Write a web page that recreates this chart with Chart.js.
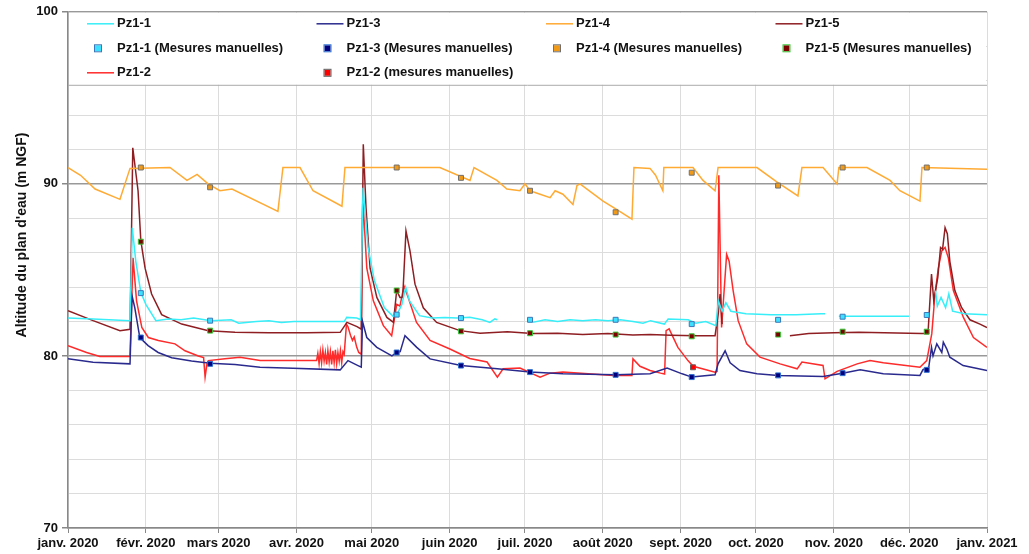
<!DOCTYPE html>
<html>
<head>
<meta charset="utf-8">
<script src="https://cdn.jsdelivr.net/npm/chart.js@4.4.1/dist/chart.umd.min.js"></script>
<style>
  body { margin: 0; background: #fff; }
  #plot { display: block; }
</style>
</head>
<body>
<canvas id="plot" width="1029" height="554"></canvas>
<script>
// x = day of year 2020 (0 = 1 janv. 2020)
const monthDays = [0, 31, 60, 91, 121, 152, 182, 213, 244, 274, 305, 335, 366];
const monthLabels = ['janv. 2020', 'févr. 2020', 'mars 2020', 'avr. 2020', 'mai 2020', 'juin 2020',
  'juil. 2020', 'août 2020', 'sept. 2020', 'oct. 2020', 'nov. 2020', 'déc. 2020', 'janv. 2021'];

const pz11Days = [0,10,24.7,25.6,27,29,31,35,40,45,50,57,65,68,75,80,85,90,100,110,111,115,116.5,117.5,119.5,122,126,129.5,131,133,134.5,136,140,145,150,155,160,165,168,170,171,171.5,185,190,195,200,205,210,215,220,225,229,232,237.5,239,247,250,254,258,259,260.5,262,264,270,280,290,300,301.5,304,307,315,325,335,340,345.5,346.2,347.7,349.5,350.8,352.3,357,366];
const pz11Vals = [82.2,82.15,82.05,87.45,85.5,83.7,83.0,82.05,82.15,82.1,82.2,82.05,82.1,81.9,82.0,82.05,81.95,82.0,82.0,82.0,82.24,82.2,82.1,89.77,86.3,84.4,82.8,82.3,82.4,83.0,84.0,83.2,82.34,82.2,82.24,82.2,82.25,82.1,81.95,82.15,82.1,null,81.95,82.1,82.0,82.1,82.05,82.1,82.05,82.1,82.0,81.9,82.05,81.85,82.15,82.1,81.9,82.0,81.76,83.2,82.6,83.1,82.6,82.45,82.4,82.4,82.45,82.45,null,82.3,82.3,82.3,82.3,null,83.8,82.9,83.4,82.8,83.6,82.6,82.45,82.4];

const pz13Days = [0,10,24.7,25.5,26.6,28.6,31.9,35.9,41.3,49.2,56.6,66.5,76.5,89.6,108.4,111.5,115.5,116.8,117.3,119,123,129,130.9,132.3,134.2,138.9,144.2,156.5,171,184,197.1,218.1,231.8,238.6,244.6,248.4,257.7,258.9,261.7,263.7,267.6,274.4,282.8,300.7,308.5,315.5,324.7,339.3,340.5,342.8,343.9,344.5,346,348,348.6,350,351.2,356.5,366];
const pz13Vals = [79.83,79.64,79.54,83.5,82.8,81.07,80.6,80.2,79.9,79.7,79.58,79.5,79.34,79.29,79.19,79.73,79.44,79.35,82.0,81.07,80.5,80.0,80.2,80.25,81.18,80.5,79.83,79.44,79.25,79.06,78.96,78.9,78.96,79.3,78.96,78.77,78.9,79.54,80.3,79.6,79.15,78.96,78.87,78.8,79.0,79.19,78.96,78.87,79.2,79.34,80.5,80.0,80.7,80.2,80.8,80.4,79.93,79.44,79.15];

const pz14Days = [0,5,10.8,20.7,24.7,40.6,47.4,51.4,55.8,60.5,65.3,83.6,85.6,92.4,97.6,109.1,110.3,148.1,160.1,161.7,170.8,174.8,180,182,184,192,194,197.1,201.1,202.7,203.9,213.1,218.6,224.6,225.4,231.8,234,236.9,237.3,248.9,252.9,257.7,258.9,274.4,282.4,290.7,292.3,300.7,306.3,307,318.2,327.4,331.3,339.3,340.1,366];
const pz14Vals = [90.95,90.5,89.7,89.1,90.9,90.95,90.2,90.55,90.0,89.6,89.7,88.4,90.95,90.95,89.6,88.7,90.95,90.95,90.2,90.95,90.2,89.7,89.6,90.0,89.6,89.2,89.6,89.4,88.8,89.9,90.0,89.0,88.5,87.95,90.95,90.9,90.5,89.6,90.95,90.95,90.2,89.6,90.95,90.95,90.1,89.3,90.95,90.95,90.0,90.95,90.95,90.2,89.6,89.0,90.95,90.85];

const pz15Days = [0,10,20.7,24.7,25.8,27.9,29,30.7,33.3,37.3,45.3,55.9,66.5,80,95,108.4,111.1,115.1,116.8,117.6,118.7,120.3,123,127,129.6,130.9,132.2,133.3,134.6,136.2,138.2,141.5,146.8,156.1,164.1,175,185,195,205,215,225,231.8,240,250,257.7,259,259.7,260.5,261,287.5,295,305,315,325,340,342.5,343.9,344.8,346.4,347.5,348.3,349.3,350.2,351.2,353.2,355.9,359.2,363.2,366];
const pz15Vals = [82.63,82.05,81.47,81.55,92.1,89.6,86.7,85.1,83.6,82.4,81.85,81.47,81.37,81.35,81.35,81.37,81.95,81.7,81.55,92.3,88.6,85.1,83.4,82.24,81.95,83.8,83.4,83.4,87.27,86.1,84.17,82.8,81.95,81.47,81.32,81.4,81.3,81.32,81.25,81.3,81.22,81.24,81.2,81.18,81.18,82.5,83.6,81.85,null,81.18,81.3,81.35,81.38,81.35,81.3,81.3,84.76,83.2,84.56,86.3,86.2,87.45,87.1,85.5,83.8,82.8,82.1,81.85,81.65];

const pz12Days = [0,7.4,12.7,24.7,25.9,27.3,29.4,32,36,42.6,46.6,51.9,54,54.6,55.3,55.9,62.5,68.5,76.5,89.6,99,99.5,100,100.5,101,101.5,102,102.5,103,103.5,104,104.5,105,105.5,106,106.5,107,107.5,108,108.5,109,109.5,110,110.9,111.5,112.5,113.3,114,115,115.8,116.8,117.4,119,121.6,125.6,128.9,130.9,132.2,133.8,135.5,138.8,144.2,152.1,160,166.9,171,173.3,180,188,192,197.1,217.3,224.6,225,227.8,231.8,236,237.6,238.2,239.4,242.9,246.9,249,257.7,258.5,259.2,260.3,262.3,263.3,264.9,266.9,270.3,275.6,283.6,290.4,292.3,300.7,301.5,306.3,314.3,319.4,324.7,339.3,342,344,345.3,346.6,348,349.3,350.6,352.6,356.6,360.6,366];
const pz12Vals = [80.6,80.2,79.97,79.97,85.7,83.2,81.66,81.07,80.9,80.7,80.3,80.0,79.9,78.77,79.5,79.73,79.83,79.93,79.73,79.73,79.73,80.15,79.55,80.25,79.6,80.35,79.7,80.2,79.5,80.3,79.65,80.25,79.5,80.3,79.6,80.35,79.55,80.2,79.7,80.3,79.6,80.25,80.1,81.85,81.7,81.2,80.9,81.1,80.5,80.2,80.1,89.2,85.1,83.2,81.76,81.18,83.0,82.9,84.07,83.4,81.95,80.9,80.4,79.85,79.65,78.77,79.25,79.3,78.77,79.0,79.06,78.87,78.87,79.83,79.4,79.15,79.0,78.95,81.47,81.57,80.5,79.73,79.4,79.06,79.1,90.5,81.66,85.9,85.5,83.8,82.05,80.7,79.93,79.54,79.25,79.64,79.45,78.67,79.1,79.54,79.73,79.6,79.34,79.73,81.28,83.6,85.1,86.1,86.3,85.7,83.8,82.24,81.07,80.5];

// mesures manuelles
const mmDays = [29, 56.6, 130.9, 156.5, 184, 218.1, 248.4, 282.8, 308.5, 342];
const pz11MM = [83.65, 82.05, 82.4, 82.2, 82.1, 82.1, 81.85, 82.1, 82.28, 82.38];
const pz13MM = [81.07, 79.54, 80.2, 79.44, 79.06, 78.9, 78.77, 78.87, 79.0, 79.19];
const pz14MM = [90.95, 89.8, 90.95, 90.35, 89.6, 88.35, 90.65, 89.9, 90.95, 90.95];
const pz15MM = [86.64, 81.47, 83.8, 81.43, 81.32, 81.24, 81.14, 81.24, 81.41, 81.41];
const pz12MMDays = [248.9];
const pz12MM = [79.34];

const pts = (days, vals) => days.map((d, i) => ({ x: d, y: vals[i] }));

const line = (label, days, vals, color) => ({
  type: 'line', label, data: pts(days, vals), borderColor: color, backgroundColor: color,
  borderWidth: 1.5, pointRadius: 0, tension: 0, spanGaps: false, order: 2
});
const marks = (label, days, vals, fill, border) => ({
  type: 'scatter', label, data: pts(days, vals), backgroundColor: fill, borderColor: border,
  borderWidth: 1, pointStyle: 'rect', pointRadius: 3.5, order: 1
});

// legend order = Excel order (4 columns, row by row)
const datasets = [
  line('Pz1-1', pz11Days, pz11Vals, '#38eef8'),
  line('Pz1-3', pz13Days, pz13Vals, '#2a2a8e'),
  line('Pz1-4', pz14Days, pz14Vals, '#ffaa33'),
  line('Pz1-5', pz15Days, pz15Vals, '#8e1e22'),
  marks('Pz1-1 (Mesures manuelles)', mmDays, pz11MM, '#3ee0ff', '#3a78b8'),
  marks('Pz1-3 (Mesures manuelles)', mmDays, pz13MM, '#00007c', '#3070d0'),
  marks('Pz1-4 (Mesures manuelles)', mmDays, pz14MM, '#f09a18', '#707070'),
  marks('Pz1-5 (Mesures manuelles)', mmDays, pz15MM, '#7c0000', '#38c838'),
  line('Pz1-2', pz12Days, pz12Vals, '#ff2a2a'),
  marks('Pz1-2 (mesures manuelles)', pz12MMDays, pz12MM, '#ff0000', '#606060')
];

const FONT = '"Liberation Sans", Arial, sans-serif';

const legendBox = {
  id: 'legendBox',
  afterDraw(chart) {
    const c = chart.ctx, a = chart.chartArea;
    c.save();
    c.fillStyle = '#fff';
    c.fillRect(a.left + 1, a.top + 1, a.right - a.left - 2, 72);
    c.strokeStyle = '#aaa';
    c.lineWidth = 1;
    c.beginPath();
    c.moveTo(a.left, a.top + 73.5);
    c.lineTo(a.right, a.top + 73.5);
    c.stroke();
    c.font = 'bold 13px ' + FONT;
    c.textBaseline = 'middle';
    c.fillStyle = '#111';
    chart.data.datasets.forEach((ds, i) => {
      const x = a.left + 19 + (i % 4) * 229.5;
      const y = a.top + 12 + Math.floor(i / 4) * 24.5;
      if (ds.type === 'line') {
        c.strokeStyle = ds.borderColor;
        c.lineWidth = 1.5;
        c.beginPath();
        c.moveTo(x, y);
        c.lineTo(x + 27, y);
        c.stroke();
      } else {
        c.fillStyle = ds.backgroundColor;
        c.fillRect(x + 8, y - 3, 6, 6);
        c.strokeStyle = ds.borderColor;
        c.lineWidth = 1;
        c.strokeRect(x + 7.5, y - 3.5, 7, 7);
      }
      c.fillStyle = '#111';
      c.fillText(ds.label, x + 30, y);
    });
    // y axis title
    c.translate(22, 235);
    c.rotate(-Math.PI / 2);
    c.textAlign = 'center';
    c.font = 'bold 14px ' + FONT;
    c.fillText("Altitude du plan d'eau (m NGF)", 0, 0);
    c.restore();
  }
};

new Chart(document.getElementById('plot'), {
  data: { datasets },
  options: {
    responsive: false,
    animation: false,
    layout: { padding: { top: 10, right: 42, left: 0, bottom: 0 } },
    plugins: { legend: { display: false }, tooltip: { enabled: false } },
    scales: {
      x: {
        type: 'linear', min: 0, max: 366,
        afterBuildTicks: s => { s.ticks = monthDays.map(v => ({ value: v })); },
        afterFit: s => { s.height = 26; },
        ticks: {
          autoSkip: false, maxRotation: 0, padding: 3, color: '#111',
          font: { family: FONT, size: 13, weight: 'bold' },
          callback: v => monthLabels[monthDays.indexOf(v)]
        },
        grid: { color: '#dcdcdc', lineWidth: 1, tickColor: '#888', tickLength: 5 },
        border: { color: '#888', width: 1.5 }
      },
      y: {
        min: 70, max: 100,
        afterFit: s => { s.width = 68; },
        ticks: {
          stepSize: 2, padding: 4, color: '#111',
          font: { family: FONT, size: 13, weight: 'bold' },
          callback: v => (v % 10 === 0 ? v : '')
        },
        grid: {
          color: ctx => (ctx.tick && ctx.tick.value % 10 === 0 ? '#999' : '#dcdcdc'),
          lineWidth: ctx => (ctx.tick && ctx.tick.value % 10 === 0 ? 1.5 : 1),
          tickColor: ctx => (ctx.tick && ctx.tick.value % 10 === 0 ? '#888' : 'rgba(0,0,0,0)'),
          tickLength: 6
        },
        border: { color: '#888', width: 1.5 }
      }
    }
  },
  plugins: [legendBox]
});
</script>
</body>
</html>
